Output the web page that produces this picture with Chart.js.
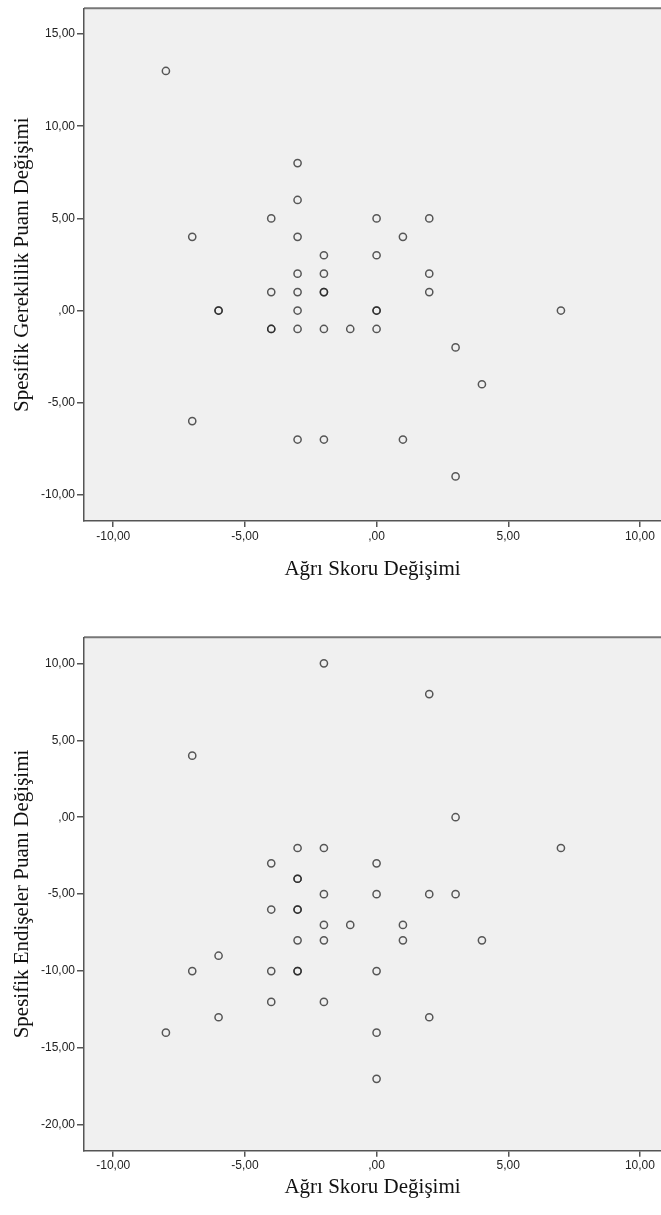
<!DOCTYPE html>
<html>
<head>
<meta charset="utf-8">
<script src="https://cdn.jsdelivr.net/npm/chart.js@4/dist/chart.umd.min.js"></script>
<style>
  html, body { margin: 0; padding: 0; background: #fff; }
  canvas { display: block; }
</style>
</head>
<body>
<canvas id="top" width="661" height="607"></canvas>
<canvas id="bottom" width="661" height="608"></canvas>
<script>
// values (x = pain score change)
const topX = [-8, -7, -7, -6, -6, -4, -4, -4, -4, -3, -3, -3, -3, -3, -3, -3, -3, -2, -2, -2, -2, -2, -2, -1, 0, 0, 0, 0, 0, 1, 1, 2, 2, 2, 3, 3, 4, 7];
const topY = [13, 4, -6, 0, 0, 5, 1, -1, -1, 8, 6, 4, 2, 1, 0, -1, -7, 3, 2, 1, 1, -1, -7, -1, 5, 3, 0, 0, -1, 4, -7, 5, 2, 1, -2, -9, -4, 0];

const bottomX = [-8, -7, -7, -6, -6, -4, -4, -4, -4, -3, -3, -3, -3, -3, -3, -3, -3, -2, -2, -2, -2, -2, -2, -1, 0, 0, 0, 0, 0, 1, 1, 2, 2, 2, 3, 3, 4, 7];
const bottomY = [-14, 4, -10, -9, -13, -3, -6, -10, -12, -2, -4, -4, -6, -6, -8, -10, -10, 10, -2, -5, -7, -8, -12, -7, -3, -5, -10, -14, -17, -7, -8, 8, -5, -13, 0, -5, -8, -2];

const xTicks = [-10, -5, 0, 5, 10];
const xTickLabels = ['-10,00', '-5,00', ',00', '5,00', '10,00'];
const topYTicks = [-10, -5, 0, 5, 10, 15];
const topYTickLabels = ['-10,00', '-5,00', ',00', '5,00', '10,00', '15,00'];
const bottomYTicks = [-20, -15, -10, -5, 0, 5, 10];
const bottomYTickLabels = ['-20,00', '-15,00', '-10,00', '-5,00', ',00', '5,00', '10,00'];

const xTitle = 'Ağrı Skoru Değişimi';
const topYTitle = 'Spesifik Gereklilik Puanı Değişimi';
const bottomYTitle = 'Spesifik Endişeler Puanı Değişimi';

const axisColor = '#555';
const tickFont = { family: '"Liberation Sans", Arial, sans-serif', size: 12 };
const titleFont = { family: '"Liberation Serif", "Times New Roman", serif', size: 21 };

// grey plot area and the top frame line
const plotFrame = {
    id: 'plotFrame',
    beforeDraw(chart) {
        const a = chart.chartArea, ctx = chart.ctx;
        ctx.save();
        ctx.fillStyle = '#f0f0f0';
        ctx.fillRect(a.left, a.top, a.right - a.left, a.bottom - a.top);
        ctx.strokeStyle = '#777';
        ctx.lineWidth = 2;
        ctx.beginPath();
        ctx.moveTo(a.left, a.top);
        ctx.lineTo(a.right, a.top);
        ctx.stroke();
        ctx.restore();
    }
};

function makeChart(id, xs, ys, yMin, yMax, yTicks, yLabels, yTitle, padTop, xHeight, xTitlePad) {
    const pts = xs.map((x, i) => ({ x: x, y: ys[i] }));
    return new Chart(document.getElementById(id), {
        type: 'scatter',
        data: {
            datasets: [{
                data: pts,
                pointRadius: 3.6,
                pointBorderWidth: 1.5,
                pointBackgroundColor: 'rgba(0,0,0,0)',
                pointBorderColor: 'rgba(35,35,35,0.75)'
            }]
        },
        options: {
            responsive: false,
            animation: false,
            layout: { autoPadding: false, padding: { top: padTop, left: 0, right: 0, bottom: 0 } },
            plugins: { legend: { display: false }, tooltip: { enabled: false } },
            scales: {
                x: {
                    type: 'linear',
                    min: -11.11,
                    max: 10.8,
                    afterBuildTicks: s => { s.ticks = xTicks.map(v => ({ value: v })); },
                    afterFit: s => { s.height = xHeight; s.paddingLeft = 0; s.paddingRight = 0; },
                    grid: { drawOnChartArea: false, drawTicks: true, tickLength: 6, color: axisColor, lineWidth: 1.5 },
                    border: { display: true, color: axisColor, width: 1.5 },
                    ticks: {
                        padding: 2,
                        maxRotation: 0,
                        color: '#222',
                        font: tickFont,
                        callback: v => xTickLabels[xTicks.indexOf(v)]
                    },
                    title: { display: true, text: xTitle, color: '#111', font: titleFont, padding: { top: 0, bottom: xTitlePad } }
                },
                y: {
                    type: 'linear',
                    min: yMin,
                    max: yMax,
                    afterBuildTicks: s => { s.ticks = yTicks.map(v => ({ value: v })); },
                    afterFit: s => { s.width = 84; s.paddingTop = 0; s.paddingBottom = 0; },
                    grid: { drawOnChartArea: false, drawTicks: true, tickLength: 7, color: axisColor, lineWidth: 1.5 },
                    border: { display: true, color: axisColor, width: 1.5 },
                    ticks: {
                        padding: 2,
                        color: '#222',
                        font: tickFont,
                        callback: v => yLabels[yTicks.indexOf(v)]
                    },
                    title: { display: true, text: yTitle, color: '#111', font: titleFont, padding: { top: 10, bottom: 0 } }
                }
            }
        },
        plugins: [plotFrame]
    });
}

makeChart('top', topX, topY, -11.42, 16.4, topYTicks, topYTickLabels, topYTitle, 8.3, 86, 25);
makeChart('bottom', bottomX, bottomY, -21.67, 11.69, bottomYTicks, bottomYTickLabels, bottomYTitle, 30.3, 64.3, 15);
</script>
</body>
</html>
